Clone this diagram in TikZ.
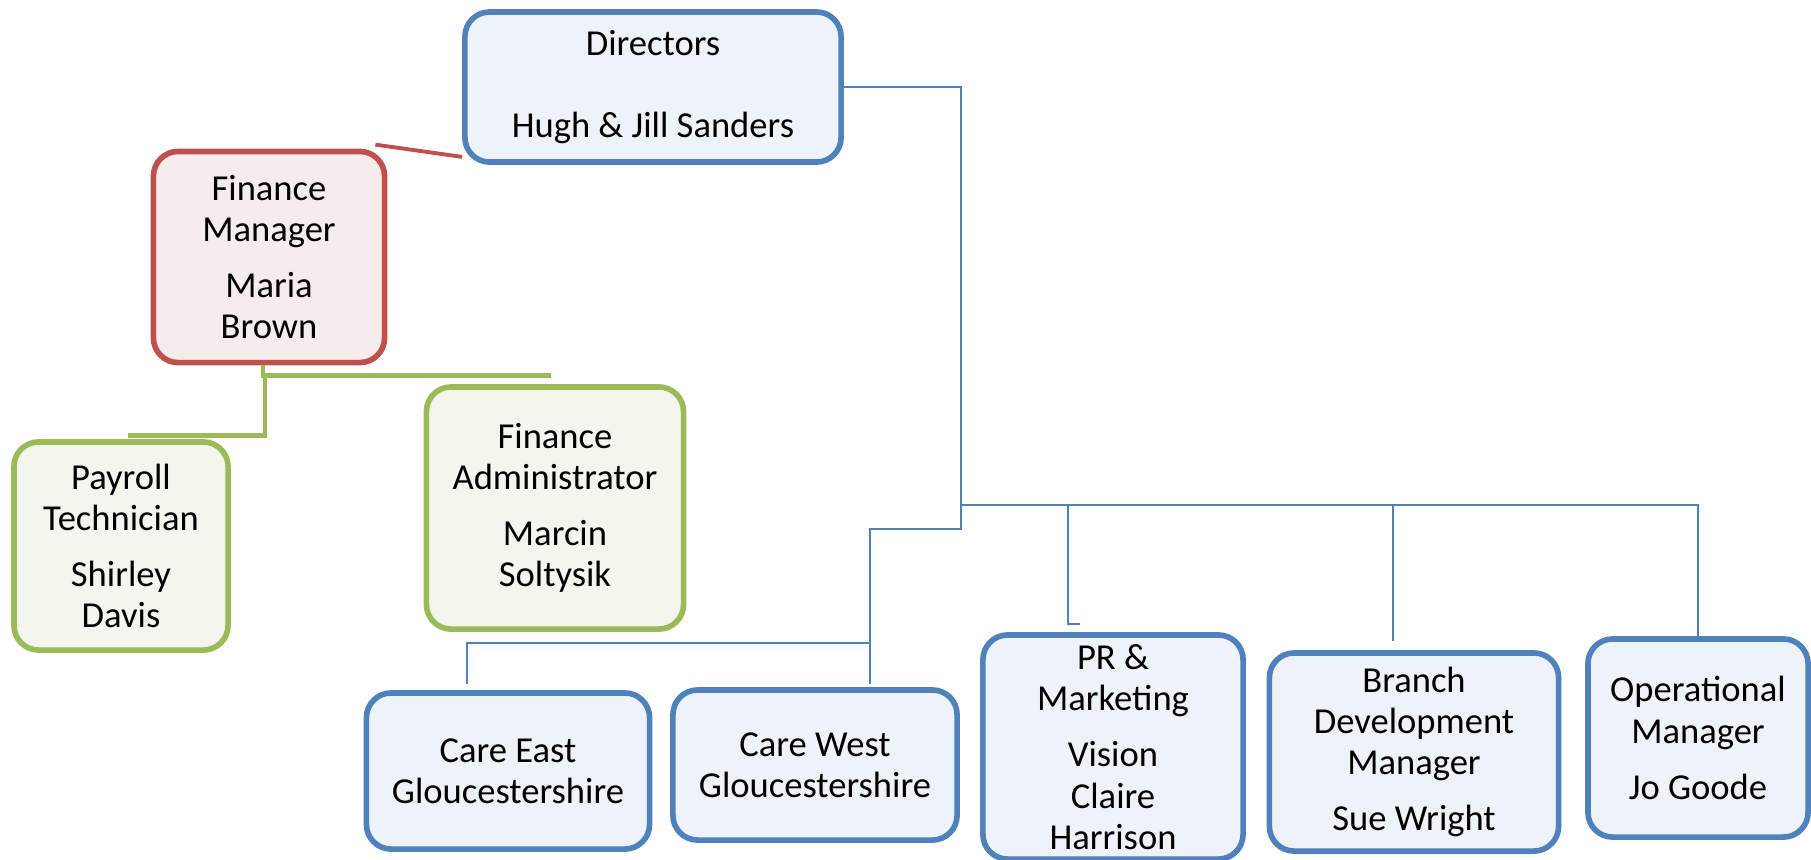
\documentclass[tikz,border=0pt]{standalone}
\usepackage{fontspec}
\setmainfont{Carlito}
\usepackage{xcolor}
\usepackage{tikz}
\usetikzlibrary{calc}
\usetikzlibrary{positioning}

\definecolor{bluedge}{HTML}{4F81BD}
\definecolor{bluefill}{HTML}{EEF2F9}
\definecolor{rededge}{HTML}{C0504D}
\definecolor{redfill}{HTML}{F7ECEC}
\definecolor{greenedge}{HTML}{9BBB59}
\definecolor{greenfill}{HTML}{F3F6EC}

\tikzset{
  post/.style={rounded corners=7pt, line width=1.6pt, inner sep=0pt, align=center,
    font=\fontsize{10.4}{11.7}\selectfont},
  bluebox/.style={post, draw=bluedge, fill=bluefill},
  redbox/.style={post, draw=rededge, fill=redfill},
  greenbox/.style={post, draw=greenedge, fill=greenfill},
  bluelink/.style={draw=bluedge, line width=0.6pt},
  redlink/.style={draw=rededge, line width=1.1pt},
  greenlink/.style={draw=greenedge, line width=1.4pt},
}

\begin{document}
\begin{tikzpicture}[x=0.01cm, y=-0.01cm]
            \useasboundingbox (0,0) rectangle (1811,859);
            % top
            \node[bluebox, minimum width=3.76cm, minimum height=1.50cm] at (653,87) (directors) {Directors\\[11.5pt]Hugh \& Jill Sanders};
            % finance side
            \node[redbox, minimum width=2.31cm, minimum height=2.11cm] at (269,257) (finmgr) {Finance\\Manager\\[4.3pt]Maria\\Brown};
            \node[greenbox, minimum width=2.14cm, minimum height=2.08cm] at (121,546) (payroll) {Payroll\\Technician\\[4.3pt]Shirley\\Davis};
            \node[greenbox, minimum width=2.57cm, minimum height=2.42cm] at (555,508) (finadmin) {Finance\\Administrator\\[4.3pt]Marcin\\Soltysik};
            % bottom row
            \node[bluebox, minimum width=2.83cm, minimum height=1.56cm] at (508,771) (careeast) {Care East\\Gloucestershire};
            \node[bluebox, minimum width=2.84cm, minimum height=1.50cm] at (815,765) (carewest) {Care West\\Gloucestershire};
            \node[bluebox, minimum width=2.60cm, minimum height=2.24cm] at (1113,747) (prmkt) {PR \&\\Marketing\\[4.3pt]Vision\\Claire\\Harrison};
            \node[bluebox, minimum width=2.89cm, minimum height=1.98cm] at (1414,752) (branch) {Branch\\Development\\Manager\\[4.3pt]Sue Wright};
            \node[bluebox, minimum width=2.20cm, minimum height=1.98cm] at (1698,738) (opsmgr) {Operational\\Manager\\[4.3pt]Jo Goode};

            \coordinate (hub) at (961,505);
            \draw[bluelink] (directors.east) -| (hub) -- (opsmgr.north |- hub) -- (opsmgr.north);
            \draw[bluelink] (hub) -- ++(0,24) -- ++(-91,0) -- ++(0,155);
            \draw[bluelink] (hub) ++(-91,138) -- ++(-403,0) -- ++(0,41);
            \draw[bluelink] (hub) ++(107,0) -- ++(0,119) -- ++(12,0);
            \draw[bluelink] (hub) ++(432,0) -- ++(0,136);
            \draw[redlink] ($(finmgr.north east)+(-12,-4)$) -- ($(directors.south west)+(0,-8)$);
            \draw[greenlink] (finmgr.south) ++(-6,0) -- ++(0,10) -- ++(288,0);
            \draw[greenlink] (finmgr.south) ++(-4,10) -- ++(0,60) -- ++(-137,0);
        \end{tikzpicture}
\end{document}
